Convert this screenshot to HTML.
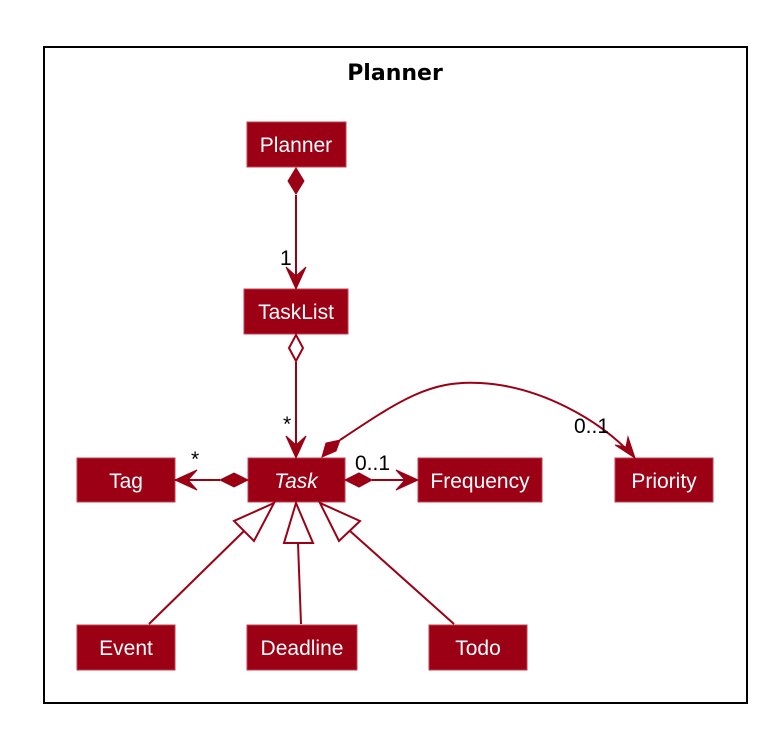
<!DOCTYPE html>
<html><head><style>
body{margin:0;background:#fff;}
svg text{font-family:"Liberation Sans",sans-serif;}
</style></head><body>
<svg width="766" height="724" xmlns="http://www.w3.org/2000/svg">
<rect x="44" y="47" width="703" height="656" fill="none" stroke="#000" stroke-width="2"/>
<text x="395" y="80" font-size="22" font-weight="bold" text-anchor="middle" style="font-family:'DejaVu Sans',sans-serif">Planner</text>
<g fill="#9b0015" stroke="#c04050" stroke-width="1">
<rect x="247" y="122" width="99" height="45"/>
<rect x="244" y="289" width="104" height="45"/>
<rect x="77" y="458" width="98" height="44"/>
<rect x="248" y="458" width="97" height="44"/>
<rect x="418" y="458" width="124" height="44"/>
<rect x="615" y="458" width="98" height="44"/>
<rect x="77" y="625" width="98" height="45"/>
<rect x="247" y="625" width="110" height="45"/>
<rect x="429" y="625" width="98" height="45"/>
</g>
<g fill="#fff" font-size="21" text-anchor="middle">
<text x="296" y="152">Planner</text>
<text x="296" y="319">TaskList</text>
<text x="126" y="488">Tag</text>
<text x="296" y="488" font-style="italic">Task</text>
<text x="480" y="488">Frequency</text>
<text x="664" y="488">Priority</text>
<text x="126" y="655">Event</text>
<text x="302" y="655">Deadline</text>
<text x="478" y="655">Todo</text>
</g>
<g stroke="#9b0015" stroke-width="2" fill="none">
<line x1="296" y1="195" x2="296" y2="287"/>
<line x1="296" y1="362" x2="296" y2="456"/>
<line x1="175" y1="480" x2="220" y2="480"/>
<line x1="372" y1="480" x2="416" y2="480"/>
<path d="M340,440 C400,400 430,380 480,383 C540,386 600,420 633,456"/>
<line x1="149" y1="624" x2="244" y2="531"/>
<line x1="298" y1="543" x2="301" y2="624"/>
<line x1="350" y1="531" x2="454" y2="624"/>
</g>
<g fill="#9b0015" stroke="#9b0015" stroke-width="1">
<polygon points="296,168 304,181 296,194 288,181"/>
<polygon points="296,289 286,267 296,276 306,267"/>
<polygon points="296,458 286,436 296,445 306,436"/>
<polygon points="248,480 234,473 220,480 234,487"/>
<polygon points="175,480 197,470 188,480 197,490"/>
<polygon points="345,480 359,473 372,480 359,487"/>
<polygon points="418,480 396,470 405,480 396,490"/>
<polygon points="322,457 326,443 340,440 336,451"/>
<polygon points="635,458 628,437 626,447 615,445"/>
</g>
<g fill="#fff" stroke="#9b0015" stroke-width="2">
<polygon points="296,335 303,348 296,361 289,348"/>
<polygon points="274,503 234,521 254,541"/>
<polygon points="296,503 284,543 313,543"/>
<polygon points="320,503 339,541 360,521"/>
</g>
<g font-size="21" fill="#000">
<text x="280" y="265">1</text>
<text x="283" y="431">*</text>
<text x="191" y="466">*</text>
<text x="355" y="470">0..1</text>
<text x="574" y="433">0..1</text>
</g>
</svg>
</body></html>
